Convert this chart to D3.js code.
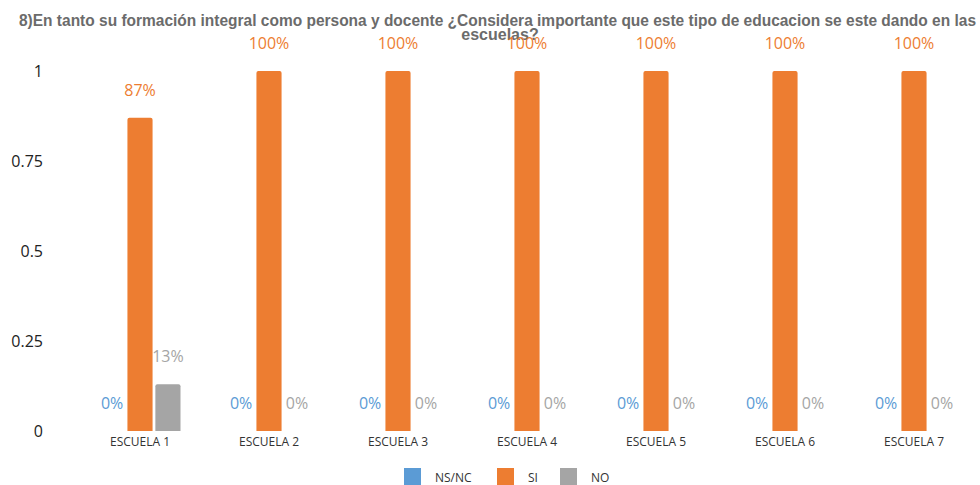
<!DOCTYPE html>
<html><head><meta charset="utf-8">
<script src="https://cdn.jsdelivr.net/npm/d3@7"></script>
<style>
html,body{margin:0;padding:0;background:#fff;}
svg{display:block;}
</style></head>
<body>
<svg id="chart" width="980" height="485"></svg>
<script>
const categories = ["ESCUELA 1","ESCUELA 2","ESCUELA 3","ESCUELA 4","ESCUELA 5","ESCUELA 6","ESCUELA 7"];
const seriesNames = ["NS/NC","SI","NO"];
const nsnc = [0,0,0,0,0,0,0];
const si = [0.87,1,1,1,1,1,1];
const no = [0.13,0,0,0,0,0,0];
const yTicks = [0,0.25,0.5,0.75,1];
const colors = ["#5B9BD5","#ED7D31","#A5A5A5"];
const titleLine1 = "8)En tanto su formación integral como persona y docente ¿Considera importante que este tipo de educacion se este dando en las";
const titleLine2 = "escuelas?";

const svg = d3.select("#chart");
const series = [nsnc, si, no];

const x0 = d3.scaleBand().domain(categories).range([75.5, 978.5]).paddingInner(0).paddingOuter(0);
const x1 = d3.scaleBand().domain(seriesNames).range([0, 81]).paddingInner(0.1);
const y = d3.scaleLinear().domain([0,1]).range([431, 71]);

// title
svg.append("text").attr("x", 19).attr("y", 26)
  .attr("textLength", 957).attr("lengthAdjust","spacingAndGlyphs")
  .style("font-family","'Liberation Sans Narrow','Liberation Sans',Arial,sans-serif")
  .style("font-weight","bold").style("font-size","16px").style("fill","#6b6b6b")
  .text(titleLine1);
svg.append("text").attr("x", 500).attr("y", 40).attr("text-anchor","middle")
  .style("font-family","'Liberation Sans Narrow','Liberation Sans',Arial,sans-serif")
  .style("font-weight","bold").style("font-size","16px").style("fill","#6b6b6b")
  .text(titleLine2);

// y axis labels
const yAxis = d3.axisLeft(y).tickValues(yTicks).tickSize(0).tickPadding(0).tickFormat(d => String(d));
const ya = svg.append("g").attr("transform","translate(43,0)").call(yAxis);
ya.select(".domain").remove();
ya.selectAll("text").style("font-family","'Open Sans',sans-serif").style("font-size","16px").style("fill","#222");

// x axis labels
const xAxis = d3.axisBottom(x0).tickSize(0).tickPadding(0);
const xa = svg.append("g").attr("transform","translate(0,437)").call(xAxis);
xa.select(".domain").remove();
xa.selectAll("text").style("font-family","'Open Sans',sans-serif").style("font-size","12px").style("fill","#333");

// bars
categories.forEach((c, i) => {
  const g = svg.append("g").attr("transform", `translate(${x0(c) + x0.bandwidth()/2 - 40.5},0)`);
  seriesNames.forEach((s, j) => {
    const v = series[j][i];
    const bx = x1(s);
    const bw = x1.bandwidth();
    if (v > 0) {
      const top = y(v);
      const r = 2;
      g.append("path")
        .attr("d", `M${bx},${y(0)} V${top + r} Q${bx},${top} ${bx + r},${top} H${bx + bw - r} Q${bx + bw},${top} ${bx + bw},${top + r} V${y(0)} Z`)
        .attr("fill", colors[j]);
    }
    g.append("text").attr("x", bx + bw/2).attr("y", y(v) - 22)
      .attr("text-anchor","middle")
      .style("font-family","'Open Sans',sans-serif").style("font-size","16px")
      .style("fill", colors[j])
      .text(Math.round(v*100) + "%");
  });
});

// legend
const legendX = [404, 497, 560];
seriesNames.forEach((s, j) => {
  svg.append("rect").attr("x", legendX[j]).attr("y", 468).attr("width", 17).attr("height", 17).attr("fill", colors[j]);
  svg.append("text").attr("x", legendX[j] + 31).attr("y", 482)
    .style("font-family","'Open Sans',sans-serif").style("font-size","12px").style("fill","#333")
    .text(s);
});
</script>
</body></html>
